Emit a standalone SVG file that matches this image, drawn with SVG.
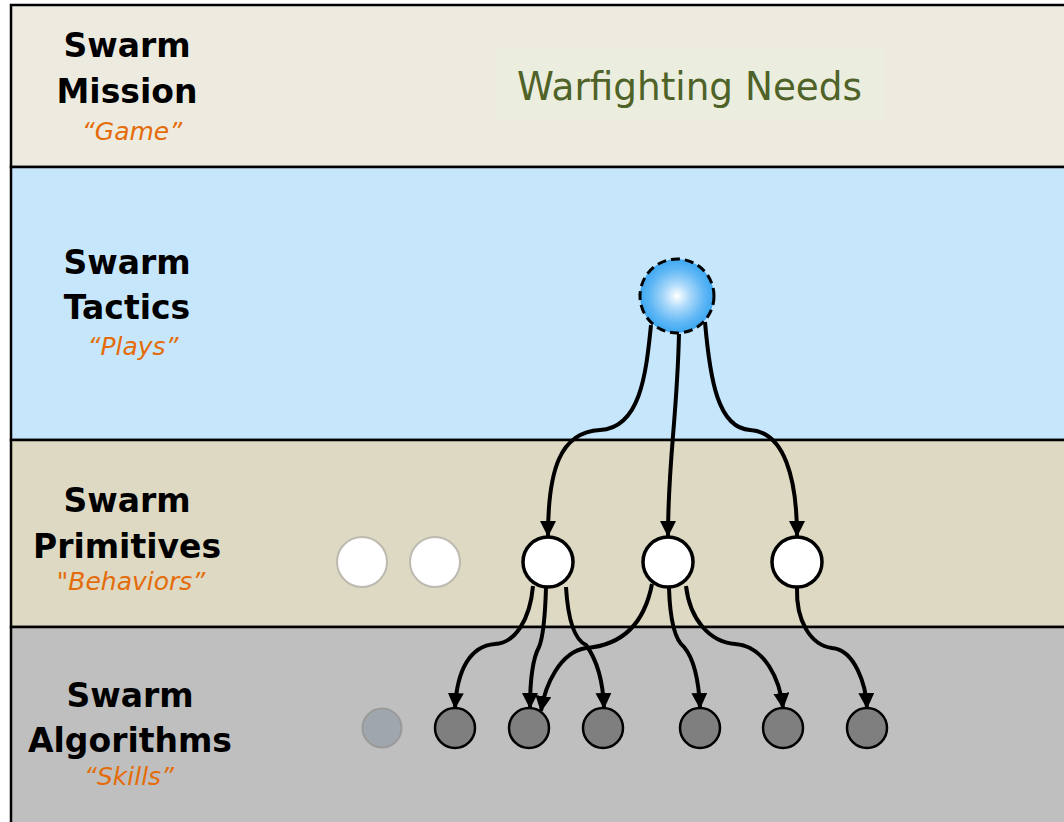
<svg xmlns="http://www.w3.org/2000/svg" width="1064" height="822" viewBox="0 0 1064 822">
<style>
.band{stroke:#000;stroke-width:2.5}
.lbl{font-family:"DejaVu Sans",Verdana,sans-serif;font-weight:bold;font-size:33px;fill:#000;text-anchor:middle}
.sub{font-family:"DejaVu Sans",Verdana,sans-serif;font-style:italic;font-size:25px;fill:#E46C0A;text-anchor:middle}
.prim{fill:#fff;stroke:#000;stroke-width:3.5}
.ghostp{fill:#fff;stroke:#BDBAB0;stroke-width:2}
.alg{fill:#7F7F7F;stroke:#000;stroke-width:2.5}
.edge{fill:none;stroke:#000;stroke-width:4}
</style>
<defs>
<radialGradient id="bg" cx="0.5" cy="0.5" r="0.5">
<stop offset="0" stop-color="#FFFFFF"/>
<stop offset="0.35" stop-color="#A9D8FA"/>
<stop offset="0.75" stop-color="#5DB6F5"/>
<stop offset="1" stop-color="#3DA7F2"/>
</radialGradient>
<marker id="arr" viewBox="0 0 16 16" refX="15" refY="8" markerWidth="16" markerHeight="16" orient="auto" markerUnits="userSpaceOnUse">
<path d="M0,0 L16,8 L0,16 z" fill="#000"/>
</marker>
</defs>
<rect x="0" y="0" width="1064" height="822" fill="#fff"/>
<g id="band-mission">
<rect class="band" x="11" y="5" width="1060" height="162" fill="#EDEBE0"/>
<text class="lbl" x="127" y="57">Swarm</text>
<text class="lbl" x="127" y="103">Mission</text>
<text class="sub" x="132" y="140">“Game”</text>
</g>
<g id="band-tactics">
<rect class="band" x="11" y="167" width="1060" height="273" fill="#C6E6FB"/>
<text class="lbl" x="127" y="274">Swarm</text>
<text class="lbl" x="127" y="319">Tactics</text>
<text class="sub" x="133" y="355">“Plays”</text>
</g>
<g id="band-primitives">
<rect class="band" x="11" y="440" width="1060" height="187" fill="#DDD9C3"/>
<text class="lbl" x="127" y="512">Swarm</text>
<text class="lbl" x="127" y="558">Primitives</text>
<text class="sub" x="131" y="590">"Behaviors”</text>
</g>
<g id="band-algorithms">
<rect class="band" x="11" y="627" width="1060" height="200" fill="#BFBFBF"/>
<text class="lbl" x="130" y="707">Swarm</text>
<text class="lbl" x="130" y="752">Algorithms</text>
<text class="sub" x="129" y="785">“Skills”</text>
</g>
<g id="warfighting-needs">
<rect x="497" y="48" width="388" height="72" fill="#EBEEDE"/>
<text x="517" y="100" font-family="DejaVu Sans,Verdana,sans-serif" font-size="39" fill="#4F6228" textLength="345" lengthAdjust="spacingAndGlyphs">Warfighting Needs</text>
</g>
<g id="connectors">
<path class="edge" marker-end="url(#arr)" d="M651,325 C646,375 640,428 600,430 C560,432 548,470 548,536"/>
<path class="edge" marker-end="url(#arr)" d="M679,334 C677,420 668,460 668,536"/>
<path class="edge" marker-end="url(#arr)" d="M705,322 C710,380 718,428 750,430 C785,432 797,480 797,536"/>
<path class="edge" marker-end="url(#arr)" d="M533,586 C530,620 515,643 495,644 C470,646 457,670 455,708"/>
<path class="edge" marker-end="url(#arr)" d="M546,588 C545,620 542,640 539,647 C532,660 530,680 530,708"/>
<path class="edge" marker-end="url(#arr)" d="M566,587 C568,620 575,640 586,645 C597,660 603,680 604,708"/>
<path class="edge" marker-end="url(#arr)" d="M652,584 C645,620 625,645 586,648 C560,652 545,685 541,711"/>
<path class="edge" marker-end="url(#arr)" d="M669,588 C670,620 675,640 684,647 C695,660 699,685 700,708"/>
<path class="edge" marker-end="url(#arr)" d="M686,586 C690,620 710,642 735,644 C765,646 780,680 783,708"/>
<path class="edge" marker-end="url(#arr)" d="M797,588 C796,620 810,645 832,648 C855,650 866,685 867,708"/>
</g>
<g id="tactic-node">
<circle cx="677" cy="296" r="37" fill="url(#bg)" stroke="#000" stroke-width="3" stroke-dasharray="9,5"/>
</g>
<g id="primitive-ghost-1"><circle class="ghostp" cx="362" cy="562" r="25"/></g>
<g id="primitive-ghost-2"><circle class="ghostp" cx="435" cy="562" r="25"/></g>
<g id="primitive-1"><circle class="prim" cx="548" cy="562" r="25"/></g>
<g id="primitive-2"><circle class="prim" cx="668" cy="562" r="25"/></g>
<g id="primitive-3"><circle class="prim" cx="797" cy="562" r="25"/></g>
<g id="algorithm-ghost"><circle cx="382" cy="728" r="19.5" fill="#A0A6AE" stroke="#9A9A9A" stroke-width="2"/></g>
<g id="algorithm-1"><circle class="alg" cx="455" cy="728" r="20"/></g>
<g id="algorithm-2"><circle class="alg" cx="529" cy="728" r="20"/></g>
<g id="algorithm-3"><circle class="alg" cx="603" cy="728" r="20"/></g>
<g id="algorithm-4"><circle class="alg" cx="700" cy="728" r="20"/></g>
<g id="algorithm-5"><circle class="alg" cx="783" cy="728" r="20"/></g>
<g id="algorithm-6"><circle class="alg" cx="867" cy="728" r="20"/></g>
</svg>
